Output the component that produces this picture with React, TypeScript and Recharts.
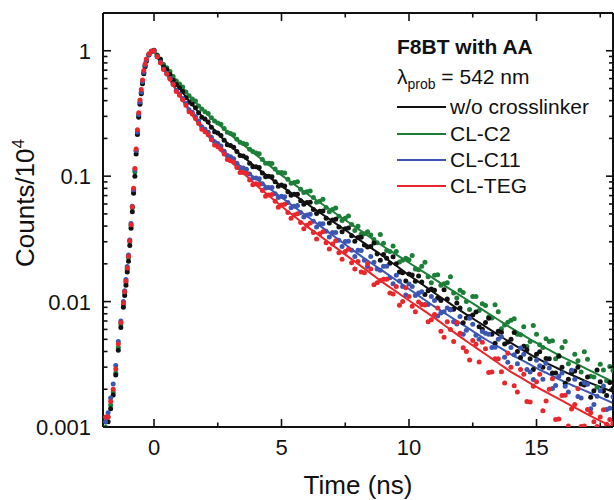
import React from 'react';
import { ComposedChart, XAxis, YAxis, Scatter, Line } from 'recharts';

// ---------- data ----------
const RISE_T = [-1.9, -1.8, -1.7, -1.6, -1.5, -1.4, -1.3, -1.2, -1.15, -1.1, -1.05, -1.0, -0.95, -0.9, -0.85, -0.8, -0.75, -0.7, -0.65, -0.6, -0.55, -0.5, -0.45, -0.4, -0.35, -0.3, -0.2, -0.1];

const BLACK_RISE = [0.0011, 0.0011, 0.0014, 0.0018, 0.0026, 0.0041, 0.0062, 0.009, 0.0112, 0.0135, 0.0172, 0.021, 0.028, 0.0385, 0.052, 0.073, 0.1, 0.15, 0.215, 0.295, 0.375, 0.455, 0.545, 0.655, 0.745, 0.825, 0.925, 0.985];
const GREEN_RISE = [0.001, 0.0012, 0.0015, 0.0019, 0.0027, 0.0043, 0.0066, 0.0094, 0.0118, 0.0142, 0.018, 0.0225, 0.03, 0.04, 0.056, 0.076, 0.108, 0.158, 0.222, 0.305, 0.385, 0.465, 0.555, 0.665, 0.755, 0.835, 0.93, 0.98];
const BLUE_RISE = [0.0011, 0.0013, 0.0017, 0.0022, 0.0031, 0.0048, 0.007, 0.01, 0.0122, 0.015, 0.019, 0.0235, 0.031, 0.042, 0.0575, 0.078, 0.112, 0.16, 0.225, 0.31, 0.39, 0.47, 0.565, 0.675, 0.765, 0.845, 0.935, 0.99];
const RED_RISE = [0.0012, 0.0012, 0.0016, 0.002, 0.0029, 0.0046, 0.0068, 0.0098, 0.012, 0.0146, 0.0185, 0.023, 0.0305, 0.041, 0.057, 0.08, 0.115, 0.165, 0.235, 0.32, 0.405, 0.49, 0.585, 0.695, 0.785, 0.86, 0.945, 0.995];

const DECAY_T = [0, 0.25, 0.5, 0.75, 1, 1.25, 1.5, 1.75, 2, 2.25, 2.5, 2.75, 3, 3.25, 3.5, 3.75, 4, 4.25, 4.5, 4.75, 5, 5.25, 5.5, 5.75, 6, 6.25, 6.5, 6.75, 7, 7.25, 7.5, 7.75, 8, 8.25, 8.5, 8.75, 9, 9.25, 9.5, 9.75, 10, 10.25, 10.5, 10.75, 11, 11.25, 11.5, 11.75, 12, 12.25, 12.5, 12.75, 13, 13.25, 13.5, 13.75, 14, 14.25, 14.5, 14.75, 15, 15.25, 15.5, 15.75, 16, 16.25, 16.5, 16.75, 17, 17.25, 17.5, 17.75, 18];

const BLACK_DECAY = [1.01, 0.851, 0.708, 0.582, 0.507, 0.422, 0.376, 0.32, 0.285, 0.245, 0.221, 0.193, 0.176, 0.157, 0.145, 0.127, 0.119, 0.106, 0.1, 0.0902, 0.0851, 0.075, 0.0716, 0.0638, 0.0617, 0.0543, 0.0525, 0.0462, 0.0447, 0.0394, 0.038, 0.0335, 0.0324, 0.0282, 0.0275, 0.024, 0.0237, 0.0202, 0.02, 0.017, 0.0166, 0.0145, 0.0143, 0.0122, 0.0123, 0.0102, 0.0105, 0.0087, 0.0089, 0.0074, 0.0078, 0.0063, 0.0068, 0.0055, 0.0058, 0.0046, 0.005, 0.004, 0.0044, 0.0035, 0.0038, 0.003, 0.0035, 0.0027, 0.003, 0.0024, 0.0028, 0.0022, 0.0025, 0.00195, 0.0023, 0.00178, 0.00204];
const GREEN_DECAY = [1.0, 0.861, 0.733, 0.624, 0.543, 0.468, 0.412, 0.363, 0.327, 0.292, 0.266, 0.24, 0.219, 0.197, 0.182, 0.164, 0.153, 0.136, 0.127, 0.114, 0.107, 0.0944, 0.0891, 0.0785, 0.075, 0.0676, 0.0631, 0.0562, 0.0543, 0.0479, 0.0462, 0.0412, 0.0398, 0.0347, 0.0339, 0.0295, 0.0292, 0.0251, 0.0251, 0.0214, 0.0216, 0.0182, 0.0191, 0.0158, 0.0162, 0.0135, 0.0141, 0.0117, 0.0123, 0.01, 0.011, 0.0085, 0.0093, 0.0074, 0.0083, 0.0065, 0.0071, 0.0055, 0.0063, 0.0048, 0.0055, 0.0043, 0.0048, 0.0035, 0.0043, 0.0032, 0.0038, 0.00275, 0.00347, 0.0025, 0.00316, 0.00234, 0.00282];
const BLUE_DECAY = [1.0, 0.813, 0.661, 0.543, 0.452, 0.38, 0.324, 0.275, 0.237, 0.204, 0.182, 0.158, 0.143, 0.127, 0.116, 0.104, 0.0966, 0.0871, 0.0813, 0.0724, 0.0692, 0.0617, 0.0575, 0.0513, 0.049, 0.0437, 0.0417, 0.0363, 0.0355, 0.0309, 0.0302, 0.0257, 0.0257, 0.0214, 0.0229, 0.0182, 0.0191, 0.0155, 0.0162, 0.0132, 0.0138, 0.0112, 0.012, 0.0095, 0.0102, 0.0081, 0.0089, 0.0069, 0.0076, 0.0059, 0.0066, 0.005, 0.0056, 0.0043, 0.005, 0.0036, 0.0043, 0.0032, 0.0038, 0.00275, 0.0034, 0.0024, 0.00295, 0.00214, 0.00269, 0.0019, 0.0024, 0.0017, 0.00219, 0.00151, 0.00195, 0.00138, 0.00174];
const RED_DECAY = [1.0, 0.804, 0.653, 0.537, 0.442, 0.367, 0.313, 0.263, 0.226, 0.195, 0.172, 0.15, 0.133, 0.117, 0.107, 0.0933, 0.0871, 0.0767, 0.0708, 0.0631, 0.0589, 0.0513, 0.049, 0.0427, 0.0407, 0.0355, 0.0347, 0.0295, 0.0288, 0.0245, 0.0251, 0.0204, 0.0209, 0.017, 0.0182, 0.0141, 0.0151, 0.0117, 0.0132, 0.01, 0.011, 0.0083, 0.0095, 0.0069, 0.0079, 0.0058, 0.0069, 0.0048, 0.0056, 0.004, 0.0049, 0.0033, 0.0042, 0.00275, 0.0035, 0.00224, 0.003, 0.0019, 0.00263, 0.00158, 0.0023, 0.00135, 0.002, 0.00115, 0.00178, 0.00102, 0.00151, 0.00101, 0.00138, 0.0011, 0.0012, 0.00105, 0.00107];

// second set of channels, between the ones above
const DECAY_T2 = [0.125, 0.375, 0.625, 0.875, 1.125, 1.375, 1.625, 1.875, 2.125, 2.375, 2.625, 2.875, 3.125, 3.375, 3.625, 3.875, 4.125, 4.375, 4.625, 4.875, 5.125, 5.375, 5.625, 5.875, 6.125, 6.375, 6.625, 6.875, 7.125, 7.375, 7.625, 7.875, 8.125, 8.375, 8.625, 8.875, 9.125, 9.375, 9.625, 9.875, 10.125, 10.375, 10.625, 10.875, 11.125, 11.375, 11.625, 11.875, 12.125, 12.375, 12.625, 12.875, 13.125, 13.375, 13.625, 13.875, 14.125, 14.375, 14.625, 14.875, 15.125, 15.375, 15.625, 15.875, 16.125, 16.375, 16.625, 16.875, 17.125, 17.375, 17.625, 17.875];

const BLACK_DECAY2 = [0.912, 0.741, 0.646, 0.537, 0.473, 0.389, 0.351, 0.295, 0.27, 0.226, 0.211, 0.178, 0.17, 0.146, 0.14, 0.119, 0.1175, 0.0989, 0.0989, 0.0832, 0.0836, 0.0703, 0.0719, 0.0598, 0.0619, 0.0504, 0.0527, 0.0424, 0.0454, 0.0361, 0.0386, 0.0303, 0.0326, 0.0273, 0.0293, 0.0214, 0.0222, 0.0228, 0.0172, 0.0146, 0.0163, 0.016, 0.0114, 0.0126, 0.0107, 0.0124, 0.00861, 0.00973, 0.00679, 0.00762, 0.00826, 0.00601, 0.00736, 0.00466, 0.00569, 0.00473, 0.00568, 0.00358, 0.00413, 0.00288, 0.00399, 0.00351, 0.0027, 0.00366, 0.00223, 0.00269, 0.00299, 0.00216, 0.00173, 0.00285, 0.00193, 0.00226];
const GREEN_DECAY2 = [0.923, 0.776, 0.684, 0.575, 0.513, 0.437, 0.398, 0.343, 0.316, 0.275, 0.26, 0.224, 0.214, 0.186, 0.18, 0.157, 0.151, 0.127, 0.126, 0.107, 0.106, 0.0879, 0.0904, 0.074, 0.0762, 0.0619, 0.0656, 0.0521, 0.0558, 0.0444, 0.0481, 0.0369, 0.0344, 0.0361, 0.0313, 0.0342, 0.0256, 0.0277, 0.0207, 0.0222, 0.0233, 0.0179, 0.0206, 0.0141, 0.0164, 0.0139, 0.0158, 0.0107, 0.0118, 0.00863, 0.011, 0.00962, 0.00755, 0.00944, 0.00607, 0.00685, 0.00731, 0.00543, 0.00439, 0.00646, 0.00452, 0.00506, 0.00488, 0.00372, 0.00481, 0.00281, 0.00338, 0.00399, 0.00254, 0.00207, 0.00285, 0.00303];
const BLUE_DECAY2 = [0.899, 0.716, 0.603, 0.484, 0.417, 0.339, 0.299, 0.248, 0.224, 0.188, 0.174, 0.146, 0.138, 0.1175, 0.1135, 0.0966, 0.0955, 0.0804, 0.0813, 0.0675, 0.0686, 0.0561, 0.0583, 0.0472, 0.0497, 0.0393, 0.0418, 0.0327, 0.0356, 0.0275, 0.0303, 0.0229, 0.0256, 0.019, 0.0206, 0.0178, 0.0191, 0.0139, 0.0146, 0.0113, 0.0132, 0.0117, 0.00946, 0.011, 0.00766, 0.0083, 0.00859, 0.00664, 0.00548, 0.00735, 0.0054, 0.00577, 0.0055, 0.00433, 0.00525, 0.00329, 0.00377, 0.00427, 0.00288, 0.00239, 0.00308, 0.00322, 0.00203, 0.00254, 0.00211, 0.00284, 0.00175, 0.00225, 0.0014, 0.00176, 0.00212, 0.00141];
const RED_DECAY2 = [0.895, 0.708, 0.596, 0.473, 0.407, 0.327, 0.288, 0.237, 0.214, 0.177, 0.164, 0.136, 0.129, 0.107, 0.105, 0.0855, 0.0859, 0.0692, 0.0714, 0.0564, 0.0596, 0.0462, 0.0501, 0.038, 0.0423, 0.0316, 0.036, 0.0262, 0.0306, 0.0218, 0.0261, 0.0182, 0.0172, 0.02, 0.0136, 0.0147, 0.0151, 0.0115, 0.00935, 0.0129, 0.00918, 0.00991, 0.0094, 0.00718, 0.00889, 0.0052, 0.00598, 0.00682, 0.00429, 0.00342, 0.00457, 0.00475, 0.00272, 0.0035, 0.00276, 0.00387, 0.00213, 0.00287, 0.0016, 0.00211, 0.00263, 0.00161, 0.00243, 0.00116, 0.00179, 0.00139, 0.00202, 0.00102, 0.0013, 0.00101, 0.00137, 0.00115];

const FIT_T = [0, 0.5, 1, 1.5, 2, 2.5, 3, 3.5, 4, 4.5, 5, 5.5, 6, 6.5, 7, 7.5, 8, 8.5, 9, 9.5, 10, 10.5, 11, 11.5, 12, 12.5, 13, 13.5, 14, 14.5, 15, 15.5, 16, 16.5, 17, 17.5, 18];
const BLACK_FIT = [1, 0.692, 0.501, 0.372, 0.282, 0.219, 0.174, 0.143, 0.1175, 0.0989, 0.0832, 0.0708, 0.0603, 0.0513, 0.0437, 0.0372, 0.0316, 0.0269, 0.0229, 0.0193, 0.0162, 0.0138, 0.0117, 0.01, 0.00851, 0.00733, 0.00631, 0.00543, 0.00468, 0.00407, 0.00355, 0.00316, 0.00282, 0.00254, 0.00229, 0.00209, 0.00191];
const GREEN_FIT = [1, 0.724, 0.537, 0.412, 0.324, 0.263, 0.214, 0.178, 0.148, 0.123, 0.102, 0.0861, 0.0724, 0.0617, 0.0525, 0.0447, 0.038, 0.0324, 0.0275, 0.0237, 0.0204, 0.0176, 0.0151, 0.013, 0.0112, 0.00966, 0.00832, 0.00716, 0.00617, 0.00537, 0.00468, 0.00412, 0.00363, 0.00324, 0.00288, 0.00257, 0.00229];
const BLUE_FIT = [1, 0.653, 0.447, 0.316, 0.234, 0.18, 0.141, 0.115, 0.0955, 0.0804, 0.0676, 0.0569, 0.0479, 0.0403, 0.0339, 0.0285, 0.024, 0.0204, 0.0174, 0.0148, 0.0126, 0.0107, 0.00912, 0.00785, 0.00676, 0.00582, 0.00501, 0.00437, 0.0038, 0.00335, 0.00295, 0.00263, 0.00234, 0.00211, 0.00191, 0.00172, 0.00155];
const RED_FIT = [1, 0.646, 0.437, 0.305, 0.224, 0.17, 0.132, 0.106, 0.0851, 0.07, 0.0575, 0.0479, 0.0398, 0.0335, 0.0282, 0.0237, 0.02, 0.0168, 0.0141, 0.012, 0.0102, 0.00871, 0.00741, 0.00624, 0.00525, 0.00447, 0.0038, 0.00324, 0.00275, 0.0024, 0.00209, 0.00184, 0.00162, 0.00143, 0.00126, 0.00112, 0.001];

const SERIES_NAMES = ['w/o crosslinker', 'CL-C2', 'CL-C11', 'CL-TEG'];
const SERIES_COLORS = ['#111111', '#1c7f37', '#3b56b3', '#e8262c'];

const X_TICKS = [0, 2.5, 5, 7.5, 10, 12.5, 15, 17.5];
const X_LABELS = [0, 5, 10, 15];
const Y_TICKS = [0.001, 0.002, 0.003, 0.004, 0.005, 0.006, 0.007, 0.008, 0.009, 0.01, 0.02, 0.03, 0.04, 0.05, 0.06, 0.07, 0.08, 0.09, 0.1, 0.2, 0.3, 0.4, 0.5, 0.6, 0.7, 0.8, 0.9, 1, 2];
const Y_LABELS = [0.001, 0.01, 0.1, 1];
const Y_LABEL_TEXT = ['0.001', '0.01', '0.1', '1'];

// ---------- helpers ----------
const FONT = '"Liberation Sans", Arial, Helvetica, sans-serif';
const AX = '#111111';

function pts(ts: number[], vs: number[]) {
  return ts.map((t, i) => ({ t, v: vs[i] }));
}

const SCATTER_DATA = [
  pts(RISE_T, BLACK_RISE).concat(pts(DECAY_T, BLACK_DECAY), pts(DECAY_T2, BLACK_DECAY2)),
  pts(RISE_T, GREEN_RISE).concat(pts(DECAY_T, GREEN_DECAY), pts(DECAY_T2, GREEN_DECAY2)),
  pts(RISE_T, BLUE_RISE).concat(pts(DECAY_T, BLUE_DECAY), pts(DECAY_T2, BLUE_DECAY2)),
  pts(RISE_T, RED_RISE).concat(pts(DECAY_T, RED_DECAY), pts(DECAY_T2, RED_DECAY2)),
];
const FIT_DATA = [
  pts(FIT_T, BLACK_FIT),
  pts(FIT_T, GREEN_FIT),
  pts(FIT_T, BLUE_FIT),
  pts(FIT_T, RED_FIT),
];
const SCATTER_ORDER = [1, 0, 2, 3];

const BottomTick = (props: any) => {
  const { x, y, payload } = props;
  const major = X_LABELS.includes(payload.value);
  return (
    <g>
      <line x1={x} x2={x} y1={y} y2={y - (major ? 8 : 4.5)} stroke={AX} strokeWidth={1.6} />
      {major && (
        <text x={x} y={y + 28} textAnchor="middle" fontSize={22} fontFamily={FONT} fill={AX}>
          {payload.value}
        </text>
      )}
    </g>
  );
};

const TopTick = (props: any) => {
  const { x, y, payload } = props;
  const major = X_LABELS.includes(payload.value);
  return <line x1={x} x2={x} y1={y} y2={y + (major ? 8 : 4.5)} stroke={AX} strokeWidth={1.6} />;
};

const LeftTick = (props: any) => {
  const { x, y, payload } = props;
  const idx = Y_LABELS.indexOf(payload.value);
  const major = idx >= 0;
  return (
    <g>
      <line x1={x} x2={x + (major ? 8 : 4.5)} y1={y} y2={y} stroke={AX} strokeWidth={1.6} />
      {major && (
        <text x={x - 12} y={y + 8} textAnchor="end" fontSize={22} fontFamily={FONT} fill={AX}>
          {Y_LABEL_TEXT[idx]}
        </text>
      )}
    </g>
  );
};

const RightTick = (props: any) => {
  const { x, y, payload } = props;
  const major = Y_LABELS.includes(payload.value);
  return <line x1={x} x2={x - (major ? 7 : 4)} y1={y} y2={y} stroke={AX} strokeWidth={1.6} />;
};

const makeDot = (color: string) => (p: any) =>
  p.cx == null || p.cy == null ? <g /> : <circle cx={p.cx} cy={p.cy} r={2.5} fill={color} />;

export default function App() {
  const legendRowY = [107, 133.5, 159.5, 185.5];
  return (
    <div style={{ position: 'absolute', left: 0, top: 0, width: 614, height: 500, background: '#fff', fontFamily: FONT, color: AX }}>
      <ComposedChart width={614} height={500} margin={{ top: 12, right: 0, bottom: 0, left: 0 }}>
        <XAxis
          xAxisId={0}
          dataKey="t"
          type="number"
          domain={[-2, 18]}
          allowDataOverflow
          ticks={X_TICKS}
          interval={0}
          height={73}
          tickLine={false}
          tickSize={0}
          tickMargin={0}
          axisLine={{ stroke: AX, strokeWidth: 2 }}
          tick={<BottomTick />}
        />
        <XAxis
          xAxisId="top"
          orientation="top"
          dataKey="t"
          type="number"
          domain={[-2, 18]}
          allowDataOverflow
          ticks={X_TICKS}
          interval={0}
          height={1}
          tickLine={false}
          tickSize={0}
          tickMargin={0}
          axisLine={{ stroke: AX, strokeWidth: 2 }}
          tick={<TopTick />}
        />
        <YAxis
          yAxisId={0}
          dataKey="v"
          type="number"
          scale="log"
          domain={[0.001, 2]}
          allowDataOverflow
          ticks={Y_TICKS}
          interval={0}
          width={103}
          tickLine={false}
          tickSize={0}
          tickMargin={0}
          axisLine={{ stroke: AX, strokeWidth: 2 }}
          tick={<LeftTick />}
        />
        <YAxis
          yAxisId="right"
          orientation="right"
          dataKey="v"
          type="number"
          scale="log"
          domain={[0.001, 2]}
          allowDataOverflow
          ticks={Y_TICKS}
          interval={0}
          width={1}
          tickLine={false}
          tickSize={0}
          tickMargin={0}
          axisLine={{ stroke: AX, strokeWidth: 2 }}
          tick={<RightTick />}
        />
        {SCATTER_ORDER.map((i) => (
          <Scatter
            key={'s' + i}
            name={SERIES_NAMES[i]}
            data={SCATTER_DATA[i]}
            dataKey="v"
            xAxisId={0}
            yAxisId={0}
            fill={SERIES_COLORS[i]}
            shape={makeDot(SERIES_COLORS[i])}
            isAnimationActive={false}
          />
        ))}
        {FIT_DATA.map((d, i) => (
          <Line
            key={'l' + i}
            name={SERIES_NAMES[i] + ' fit'}
            data={d}
            dataKey="v"
            xAxisId="top"
            yAxisId="right"
            type="monotone"
            stroke={SERIES_COLORS[i]}
            strokeWidth={2}
            dot={false}
            activeDot={false}
            isAnimationActive={false}
          />
        ))}
      </ComposedChart>

      {/* legend / annotation */}
      <div style={{ position: 'absolute', left: 397, top: 35, height: 24, lineHeight: '24px', fontSize: 21, fontWeight: 'bold', whiteSpace: 'nowrap' }}>
        F8BT with AA
      </div>
      <div style={{ position: 'absolute', left: 397, top: 64, height: 26, lineHeight: '26px', fontSize: 21, whiteSpace: 'nowrap' }}>
        λ<sub style={{ fontSize: 14, verticalAlign: '-5px', lineHeight: 0 }}>prob</sub> = 542 nm
      </div>
      {SERIES_NAMES.map((n, i) => (
        <React.Fragment key={n}>
          <div style={{ position: 'absolute', left: 397, top: legendRowY[i] - 1, width: 49, height: 2.2, background: SERIES_COLORS[i] }} />
          <div style={{ position: 'absolute', left: 450, top: legendRowY[i] - 13, height: 26, lineHeight: '26px', fontSize: 21, whiteSpace: 'nowrap' }}>
            {n}
          </div>
        </React.Fragment>
      ))}

      {/* axis titles */}
      <div style={{ position: 'absolute', left: 358, top: 485, transform: 'translate(-50%, -50%)', fontSize: 26, lineHeight: '30px', whiteSpace: 'nowrap' }}>
        Time (ns)
      </div>
      <div style={{ position: 'absolute', left: 25, top: 203, transform: 'translate(-50%, -50%) rotate(-90deg)', fontSize: 26, lineHeight: '30px', whiteSpace: 'nowrap' }}>
        Counts/10<sup style={{ fontSize: 17, verticalAlign: '10px', lineHeight: 0 }}>4</sup>
      </div>
    </div>
  );
}
